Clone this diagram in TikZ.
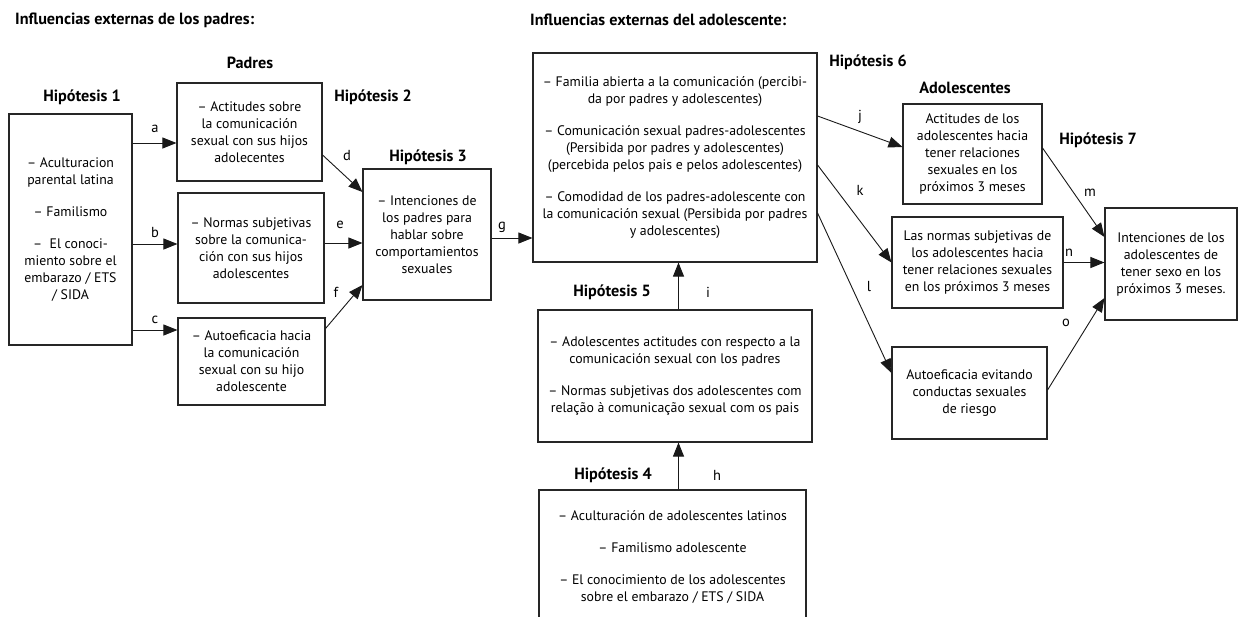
\documentclass[tikz,border=0pt]{standalone}
\usepackage{fontspec}
\setmainfont{PT Sans}
\usetikzlibrary{arrows.meta}
\begin{document}
\begin{tikzpicture}[x=1pt,y=-1pt,
  box/.style={draw=black!85, line width=1.1pt, align=center, inner sep=0pt, font=\fontsize{13.8}{17}\selectfont},
  hyp/.style={font=\bfseries\fontsize{16.2}{18}\selectfont, inner sep=0pt},
  head/.style={font=\bfseries\fontsize{16.2}{18}\selectfont, inner sep=0pt, anchor=west},
  lbl/.style={font=\fontsize{14.5}{16}\selectfont, inner sep=0pt},
  arr/.style={-{Triangle[length=14pt,width=11pt]}, line width=0.9pt, draw=black!90}]
\useasboundingbox (0,0) rectangle (1241,616);
\fill[white] (0,0) rectangle (1241,616);

% headings
\node[head] (t1) at (15,20) {Influencias externas de los padres:};
\node[head] (t2) at (530,20) {Influencias externas del adolescente:};
\node[hyp] (padres) at (250,63) {Padres};
\node[hyp] (adol) at (965,88) {Adolescentes};
\node[hyp] (h1) at (82,97) {Hipótesis 1};
\node[hyp] (h2) at (373,97) {Hipótesis 2};
\node[hyp] (h3) at (428,157) {Hipótesis 3};
\node[hyp] (h4) at (613,475) {Hipótesis 4};
\node[hyp] (h5) at (612,292) {Hipótesis 5};
\node[hyp] (h6) at (868,62) {Hipótesis 6};
\node[hyp] (h7) at (1098,140) {Hipótesis 7};

% boxes
\node[box, minimum width=123pt, minimum height=231pt] (b1) at (70.5,229.5)
  {– Aculturacion\\parental latina\\[15pt]– Familismo\\[15pt]–\ \ El conoci-\\miento sobre el\\embarazo / ETS\\/ SIDA};
\node[box, minimum width=145pt, minimum height=98pt] (bA) at (249.5,132)
  {– Actitudes sobre\\la comunicación\\sexual con sus hijos\\adolecentes};
\node[box, minimum width=146pt, minimum height=110pt] (bB) at (251,248)
  {– Normas subjetivas\\sobre la comunica-\\ción con sus hijos\\adolescentes};
\node[box, minimum width=147pt, minimum height=87pt] (bC) at (251.5,361.5)
  {– Autoeficacia hacia\\la comunicación\\sexual con su hijo\\adolescente};
\node[box, minimum width=128pt, minimum height=131pt] (bH3) at (427,234.5)
  {– Intenciones de\\los padres para\\hablar sobre\\comportamientos\\sexuales};
\node[box, minimum width=284pt, minimum height=209pt] (bBig) at (675,157.5)
  {– Familia abierta a la comunicación (percibi-\\da por padres y adolescentes)\\[15pt]– Comunicación sexual padres-adolescentes\\(Persibida por padres y adolescentes)\\(percebida pelos pais e pelos adolescentes)\\[15pt]– Comodidad de los padres-adolescente con\\la comunicación sexual (Persibida por padres\\y adolescentes)};
\node[box, minimum width=274pt, minimum height=132pt] (bH5) at (675,376)
  {– Adolescentes actitudes con respecto a la\\comunicación sexual con los padres\\[15pt]– Normas subjetivas dos adolescentes com\\relação à comunicação sexual com os pais};
\node[box, minimum width=267pt, minimum height=134pt] (bH4) at (672.5,557)
  {– Aculturación de adolescentes latinos\\[15pt]– Familismo adolescente\\[15pt]– El conocimiento de los adolescentes\\sobre el embarazo / ETS / SIDA};
\node[box, minimum width=139pt, minimum height=100pt] (bR1) at (972.5,154)
  {Actitudes de los\\adolescentes hacia\\tener relaciones\\sexuales en los\\próximos 3 meses};
\node[box, minimum width=171pt, minimum height=91pt] (bR2) at (977.5,262.5)
  {Las normas subjetivas de\\los adolescentes hacia\\tener relaciones sexuales\\en los próximos 3 meses};
\node[box, minimum width=155pt, minimum height=92pt] (bR3) at (969.5,393)
  {Autoeficacia evitando\\conductas sexuales\\de riesgo};
\node[box, minimum width=132pt, minimum height=112pt] (bR4) at (1171,264)
  {Intenciones de los\\adolescentes de\\tener sexo en los\\próximos 3 meses.};

% arrows
\draw[arr] ([yshift=86.5pt]b1.east) -- ([yshift=-11pt]bA.west);
\draw[arr] ([yshift=-14.5pt]b1.east) -- ([yshift=4pt]bB.west);
\draw[arr] ([yshift=-100.5pt]b1.east) -- ([yshift=31.5pt]bC.west);
\draw[arr] ([yshift=-23pt]bA.east) -- ([yshift=42.5pt]bH3.west);
\draw[arr] ([yshift=5pt]bB.east) -- ([yshift=-8.5pt]bH3.west);
\draw[arr] ([yshift=33pt]bC.east) -- ([yshift=-50.5pt]bH3.west);
\draw[arr] ([yshift=-3.5pt]bH3.east) -- ([yshift=-80.5pt]bBig.west);
\draw[arr] ([yshift=41.5pt]bBig.east) -- ([yshift=7pt]bR1.west);
\draw[arr] ([yshift=-7.5pt]bBig.east) -- (bR2.west);
\draw[arr] ([yshift=-55.5pt]bBig.east) -- ([yshift=20pt]bR3.west);
\draw[arr] ([yshift=6pt]bR1.east) -- ([yshift=27pt]bR4.west);
\draw[arr] (bR2.east) -- (bR4.west |- bR2.east);
\draw[arr] ([yshift=3pt]bR3.east) -- ([yshift=-34pt]bR4.west);
\draw[arr] ([xshift=3.5pt]bH5.north) -- ([xshift=3.5pt]bBig.south);
\draw[arr] ([xshift=6pt]bH4.north) -- ([xshift=3.5pt]bH5.south);

% labels
\node[lbl] (la) at (155,129) {a};
\node[lbl] (lb) at (155,232) {b};
\node[lbl] (lc) at (155,320) {c};
\node[lbl] (ld) at (347,156) {d};
\node[lbl] (le) at (340,225) {e};
\node[lbl] (lf) at (336,292) {f};
\node[lbl] (lg) at (502,227) {g};
\node[lbl] (lh) at (717,475) {h};
\node[lbl] (li) at (708,292) {i};
\node[lbl] (lj) at (860,117) {j};
\node[lbl] (lk) at (860,190) {k};
\node[lbl] (ll) at (869,287) {l};
\node[lbl] (lm) at (1090,193) {m};
\node[lbl] (ln) at (1069,253) {n};
\node[lbl] (lo) at (1066,323) {o};
\end{tikzpicture}
\end{document}
